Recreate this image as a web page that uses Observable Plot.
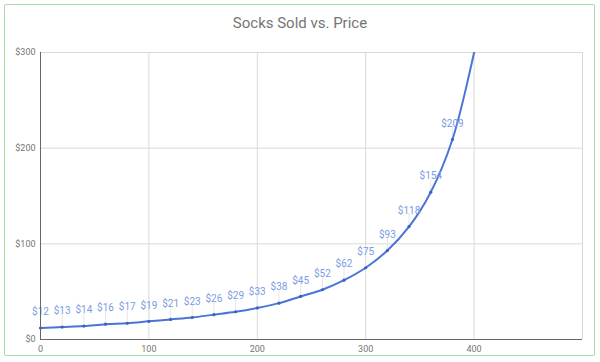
<!DOCTYPE html>
<html>
<head>
<meta charset="utf-8">
<script src="https://cdn.jsdelivr.net/npm/d3@7"></script>
<script src="https://cdn.jsdelivr.net/npm/@observablehq/plot@0.6"></script>
<style>
  html, body { margin: 0; padding: 0; background: #fff; }
  #wrap { position: relative; width: 600px; height: 362px; overflow: hidden; font-family: Roboto, "Noto Sans", sans-serif; }
  #frame { position: absolute; left: 4px; top: 4px; width: 591px; height: 352px; border: 1px solid #a8dca8; border-radius: 2px; box-sizing: border-box; pointer-events: none; }
  #title { height: 40px; line-height: 46px; text-align: center; font-size: 15px; color: #757575; }
  #chart svg { display: block; }
</style>
</head>
<body>
<div id="wrap">
  <div id="title">Socks Sold vs. Price</div>
  <div id="chart"></div>
  <div id="frame"></div>
</div>
<script>
const sold   = [0, 20, 40, 60, 80, 100, 120, 140, 160, 180, 200, 220, 240, 260, 280, 300, 320, 340, 360, 380, 400];
const price  = [12, 13, 14, 16, 17, 19, 21, 23, 26, 29, 33, 38, 45, 52, 62, 75, 93, 118, 154, 209, 300];
const labeled = 20; // first 20 points carry labels
const xTicks = [0, 100, 200, 300, 400];
const yTicks = [0, 100, 200, 300];

const data = sold.map((s, i) => ({s, p: price[i], i}));
const pts = data.slice(0, labeled);

const lineColor = "#4a74d6";
const chart = Plot.plot({
  width: 600,
  height: 322,
  marginTop: 12,
  marginBottom: 23,
  marginLeft: 40,
  marginRight: 18,
  style: {fontFamily: "Roboto, 'Noto Sans', sans-serif", background: "#fff"},
  x: {domain: [0, 500]},
  y: {domain: [0, 300]},
  marks: [
    Plot.ruleX([100, 200, 300, 400, 500], {stroke: "#d9d9d9", strokeWidth: 1}),
    Plot.ruleY([100, 200, 300], {stroke: "#d9d9d9", strokeWidth: 1}),
    Plot.ruleX(pts, {x: "s", y1: "p", y2: "p", insetTop: -13, stroke: "#e6e6e6", strokeWidth: 1}),
    Plot.line(data, {x: "s", y: "p", curve: "catmull-rom", stroke: lineColor, strokeWidth: 2, clip: true}),
    Plot.dot(pts, {x: "s", y: "p", r: 1.6, fill: "#3a62c4", stroke: null}),
    Plot.text(pts, {x: "s", y: "p", text: d => "$" + d.p, dy: -16, fill: "#7a9be3", fontSize: 10}),
    Plot.ruleX([0], {stroke: "#666", strokeWidth: 1}),
    Plot.ruleY([0], {stroke: "#666", strokeWidth: 1}),
    Plot.axisX({ticks: xTicks, tickSize: 0, tickPadding: 6, fontSize: 9, color: "#757575", label: null}),
    Plot.axisY({ticks: yTicks, tickSize: 0, tickPadding: 5, fontSize: 9, color: "#757575", tickFormat: d => "$" + d, label: null})
  ]
});
document.getElementById("chart").append(chart);
</script>
</body>
</html>
